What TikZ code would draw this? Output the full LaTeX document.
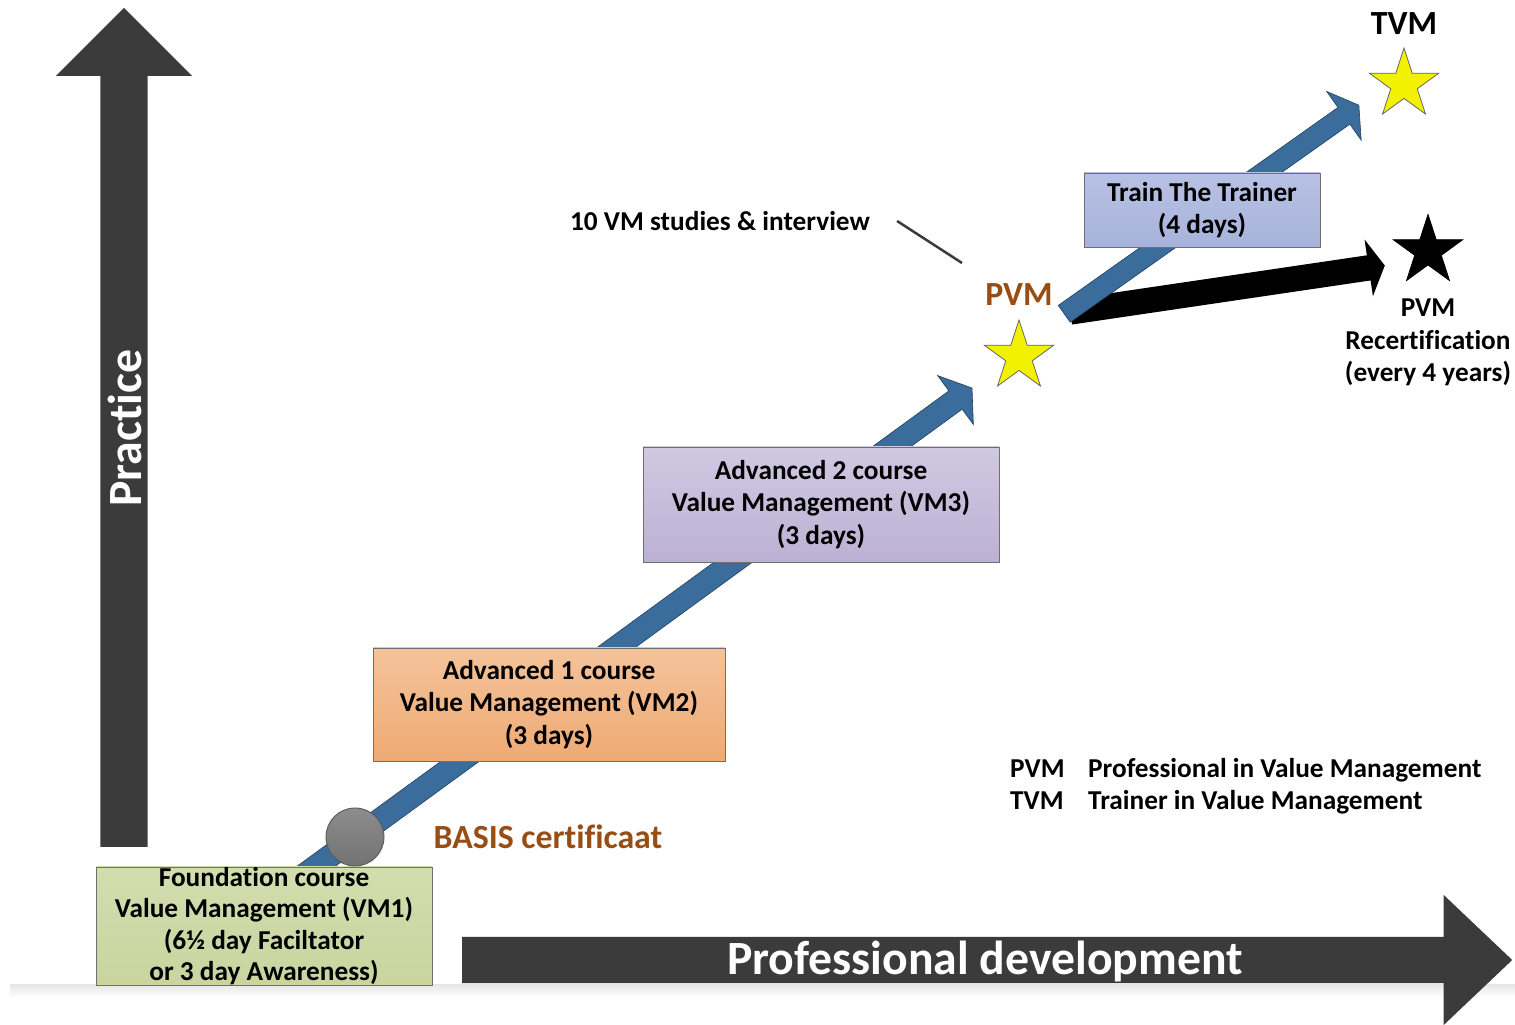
\documentclass[tikz,border=0pt]{standalone}
\usepackage{fontspec}
\setmainfont{Carlito}[Ligatures=NoCommon]
\usetikzlibrary{positioning,shapes.arrows,shapes.geometric}
\definecolor{darkarrow}{HTML}{3B3B3B}
\definecolor{vmblue}{HTML}{3A6D9C}
\definecolor{certbrown}{HTML}{974D14}
\definecolor{staryellow}{HTML}{F2F200}
\definecolor{boxline}{HTML}{6F6F6F}
\definecolor{vmonetop}{HTML}{D3DDAE}
\definecolor{vmonebot}{HTML}{C9D49F}
\definecolor{vmtwotop}{HTML}{F4C39A}
\definecolor{vmtwobot}{HTML}{EEAA74}
\definecolor{vmthreetop}{HTML}{D0C9E2}
\definecolor{vmthreebot}{HTML}{BCB1D3}
\definecolor{ttttop}{HTML}{B7C1E4}
\definecolor{tttbot}{HTML}{A8B3DB}
\tikzset{
	bigarrow/.style={single arrow, fill=darkarrow, inner sep=0pt, anchor=tail},
	steparrow/.style={single arrow, fill=vmblue, draw=vmblue!60!black, line width=0.6pt, inner sep=0pt, anchor=tail},
	course/.style={draw=boxline, line width=0.9pt, align=center, inner sep=0pt, font=\bfseries\fontsize{27.3}{32.5}\selectfont},
	labeltext/.style={inner sep=0pt, align=center, font=\bfseries\fontsize{27.3}{32.5}\selectfont},
	bigtext/.style={inner sep=0pt, text=white, font=\bfseries\fontsize{47.7}{56}\selectfont},
	headtext/.style={inner sep=0pt, font=\bfseries\fontsize{33.8}{40}\selectfont},
	vmstar/.style={star, star points=5, star point ratio=2.618, minimum size=73pt, inner sep=0pt, line width=0.8pt}
}
\begin{document}
\begin{tikzpicture}[x=1pt,y=1pt]
	\useasboundingbox (0,0) rectangle (1515,1025);
	\shade[top color=black!9, bottom color=white] (10,27) rectangle (1515,40);
	\node[bigarrow, text height=23.5pt, text depth=23.5pt, single arrow head extend=44.5pt, single arrow tip angle=90, minimum height=839pt, rotate=90] (Practice) at (124,178) {};
	\node[bigtext, rotate=90, anchor=base] at (141,597) {Practice};
	\node[bigarrow, text height=23pt, text depth=23pt, single arrow head extend=42pt, single arrow tip angle=87, minimum height=1050pt] (Development) at (462,65) {};
	\node[bigtext, anchor=base] at (985,50) {Professional development};
	\node[single arrow, fill=black, inner sep=0pt, anchor=tail, text height=12.5pt, text depth=12.5pt, single arrow head extend=16pt, single arrow tip angle=121, minimum height=318pt, rotate=8.4] (Recert) at (1070,713) {};
	\node[steparrow, text height=11pt, text depth=11pt, single arrow head extend=19pt, single arrow tip angle=112, minimum height=850pt, rotate=36.1] (StepA) at (285,136) {};
	\node[steparrow, text height=10pt, text depth=10pt, single arrow head extend=19.6pt, single arrow tip angle=117, minimum height=361pt, rotate=35.3] (StepB) at (1064,711) {};
	\node[course, top color=vmonetop, bottom color=vmonebot, minimum width=336pt, minimum height=118pt, font=\bfseries\fontsize{27.3}{31.5}\selectfont] (VMone) at (264,99) {Foundation course\\Value Management (VM1)\\(6½ day Faciltator\\or 3 day Awareness)};
	\node[course, top color=vmtwotop, bottom color=vmtwobot, minimum width=352pt, minimum height=113pt] (VMtwo) at (549,320.5) {Advanced 1 course\\Value Management (VM2)\\(3 days)};
	\node[course, top color=vmthreetop, bottom color=vmthreebot, minimum width=356pt, minimum height=115pt] (VMthree) at (821,520.5) {Advanced 2 course\\Value Management (VM3)\\(3 days)};
	\node[course, top color=ttttop, bottom color=tttbot, minimum width=236pt, minimum height=74pt] (TtT) at (1202,815) {Train The Trainer\\(4 days)};
	\node[circle, draw=black!65, line width=0.9pt, top color=black!45, bottom color=black!55, minimum size=58pt, inner sep=0pt] (Basis) at (355,188) {};
	\node[headtext, text=certbrown, right=49pt of Basis] (BasisLabel) {BASIS certificaat};
	\node[vmstar, fill=staryellow, draw=black!60] (PVMstar) at (1019,668.5) {};
	\node[headtext, text=certbrown, above=13pt of PVMstar] (PVM) {PVM};
	\node[vmstar, fill=staryellow, draw=black!60] (TVMstar) at (1404,940.5) {};
	\node[headtext, above=12pt of TVMstar] (TVM) {TVM};
	\node[vmstar, fill=black, draw=black] (Recertstar) at (1428,774) {};
	\node[labeltext, anchor=north] (RecertText) at (1428,726) {PVM\\Recertification\\(every 4 years)};
	\node[labeltext, anchor=base] (Studies) at (720,794.5) {10 VM studies \& interview};
	\coordinate (StudiesEnd) at (962,762);
	\draw[darkarrow, line width=2.5pt] ([xshift=27pt]Studies.east) -- (StudiesEnd);
	\node[labeltext, anchor=base west] (PVMabbr) at (1010,247.5) {PVM};
	\node[labeltext, anchor=base west] (PVMfull) at (1088,247.5) {Professional in Value Management};
	\node[labeltext, anchor=base west] (TVMabbr) at (1010,215.5) {TVM};
	\node[labeltext, anchor=base west] (TVMfull) at (1088,215.5) {Trainer in Value Management};
\end{tikzpicture}
\end{document}
